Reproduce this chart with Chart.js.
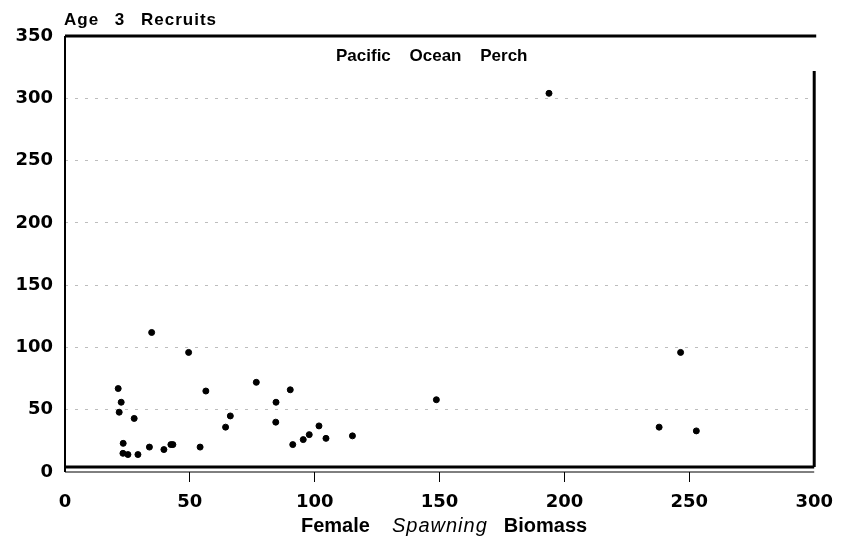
<!DOCTYPE html>
<html>
<head>
<meta charset="utf-8">
<script src="https://cdn.jsdelivr.net/npm/chart.js@4"></script>
<style>
  html, body { margin: 0; padding: 0; background: #fff; }
  #wrap { position: relative; width: 843px; height: 541px; }
</style>
</head>
<body>
<div id="wrap"><canvas id="chart" width="843" height="541"></canvas></div>
<script>
// female spawning biomass (x) and age 3 recruits (y)
const biomass = [21.3, 22.5, 21.7, 27.7, 23.3, 23.2, 25.2, 29.2, 33.8, 39.6, 42.4, 43.2,
                 34.7, 49.5, 54.1, 56.4, 64.3, 66.2, 76.6, 84.5, 84.4, 90.2, 91.2, 95.4,
                 97.8, 101.7, 104.5, 115.1, 148.7, 193.8, 237.9, 246.5, 252.8];
const recruits = [67, 56, 48, 43, 23, 15, 14, 14, 20, 18, 22, 22,
                  112, 96, 20, 65, 36, 45, 72, 56, 40, 66, 22, 26,
                  30, 37, 27, 29, 58, 304, 36, 96, 33];
const xTicks = [0, 50, 100, 150, 200, 250, 300];
const yTicks = [0, 50, 100, 150, 200, 250, 300, 350];

const points = biomass.map((b, i) => ({ x: b, y: recruits[i] }));
const tickFont = { family: 'DejaVu Sans', size: 18, weight: 'bold' };

// frame and the hand-placed labels of the original figure
const framePlugin = {
    id: 'frame',
    afterDraw(chart) {
        const { ctx, chartArea: a } = chart;
        ctx.save();
        ctx.strokeStyle = '#000';
        ctx.lineWidth = 3;
        ctx.beginPath();
        ctx.moveTo(a.left, a.top); ctx.lineTo(a.right + 2, a.top);
        ctx.moveTo(a.right, a.top + 35); ctx.lineTo(a.right, a.bottom - 5);
        ctx.moveTo(a.left, a.bottom - 5); ctx.lineTo(a.right, a.bottom - 5);
        ctx.stroke();
        ctx.lineWidth = 2;
        ctx.beginPath();
        ctx.moveTo(a.left, a.top); ctx.lineTo(a.left, a.bottom);
        ctx.stroke();
        ctx.lineWidth = 1;
        ctx.beginPath();
        ctx.moveTo(a.left, a.bottom); ctx.lineTo(a.right, a.bottom);
        ctx.stroke();

        ctx.fillStyle = '#000';
        ctx.textBaseline = 'middle';
        ctx.textAlign = 'left';
        ctx.letterSpacing = '1px';
        ctx.wordSpacing = '10px';
        ctx.font = 'bold 17px "Liberation Sans", Arial, sans-serif';
        ctx.fillText('Age 3 Recruits', 64, 20);

        ctx.letterSpacing = '0px';
        ctx.wordSpacing = '14px';
        ctx.font = 'bold 17px "Liberation Sans", Arial, sans-serif';
        ctx.fillText('Pacific Ocean Perch', 336, 56);

        ctx.wordSpacing = '0px';
        const parts = [
            ['Female', 'bold 20px "Liberation Sans", Arial, sans-serif', '0px', 22],
            ['Spawning', 'italic 20px "Liberation Sans", Arial, sans-serif', '1px', 16],
            ['Biomass', 'bold 20px "Liberation Sans", Arial, sans-serif', '0px', 0]
        ];
        let x = 301;
        parts.forEach(([t, f, ls, gap]) => {
            ctx.font = f;
            ctx.letterSpacing = ls;
            ctx.fillText(t, x, 526);
            x += ctx.measureText(t).width + gap;
        });
        ctx.restore();
    }
};

new Chart(document.getElementById('chart').getContext('2d'), {
    type: 'scatter',
    data: {
        datasets: [{
            data: points,
            backgroundColor: '#000',
            borderColor: '#000',
            pointRadius: 3,
            pointHoverRadius: 3
        }]
    },
    options: {
        responsive: false,
        animation: false,
        layout: { padding: { top: 36, right: 25, left: 0, bottom: 0 } },
        plugins: {
            legend: { display: false },
            tooltip: { enabled: false },
            title: { display: false }
        },
        scales: {
            x: {
                type: 'linear',
                min: 0, max: 300,
                afterBuildTicks: (s) => { s.ticks = xTicks.map(v => ({ value: v })); },
                afterFit: (s) => { s.height = 69; },
                border: { display: false },
                grid: {
                    drawOnChartArea: false,
                    drawTicks: true,
                    tickLength: 10,
                    color: '#000',
                    lineWidth: (c) => (c.tick && (c.tick.value === 0 || c.tick.value === 300)) ? 0 : 1
                },
                ticks: { color: '#000', font: tickFont, padding: 10, maxRotation: 0 }
            },
            y: {
                type: 'linear',
                min: 0, max: 350,
                afterBuildTicks: (s) => { s.ticks = yTicks.map(v => ({ value: v })); },
                afterFit: (s) => { s.width = 65; },
                border: { display: false, dash: [3, 7] },
                grid: {
                    drawTicks: false,
                    color: (c) => (c.tick && c.tick.value > 0 && c.tick.value < 350) ? '#bdbdbd' : 'rgba(0,0,0,0)',
                    lineWidth: 1
                },
                ticks: { color: '#000', font: tickFont, padding: 12 }
            }
        }
    },
    plugins: [framePlugin]
});
</script>
</body>
</html>
